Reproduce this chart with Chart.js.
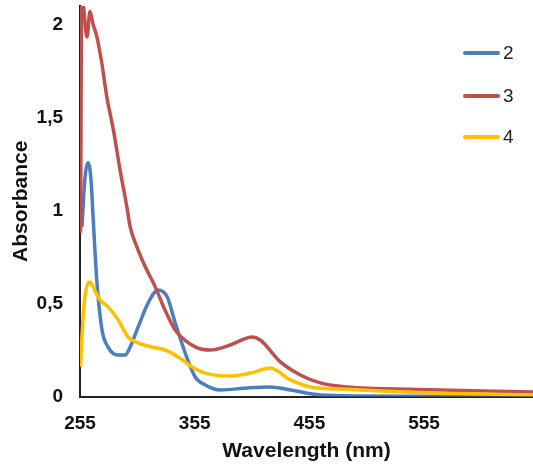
<!DOCTYPE html>
<html>
<head>
<meta charset="utf-8">
<script src="https://cdn.jsdelivr.net/npm/chart.js@4/dist/chart.umd.min.js"></script>
<style>
  html, body { margin: 0; padding: 0; background: #fff; }
  #wrap { position: relative; width: 533px; height: 465px; }
  #legend { position: absolute; left: 463px; top: 0; font-family: "Liberation Sans", Arial, sans-serif; font-size: 19px; color: #222; }
  .item { position: absolute; left: 0; height: 22px; width: 70px; }
  .item .sw { position: absolute; left: 0; top: 9px; width: 37px; height: 4px; border-radius: 2px; }
  .item .tx { position: absolute; left: 40px; top: 0; line-height: 22px; }
</style>
</head>
<body>
<div id="wrap">
  <canvas id="c" width="533" height="465"></canvas>
  <div id="legend"></div>
</div>
<script>
// ---- data ----
const seriesNames = ["2", "3", "4"];
const seriesColors = ["#4a7ebf", "#c0504d", "#ffc000"];

const wl2 = [256.7, 259.4, 262, 264.6, 266.4, 269.8, 274.2, 279.5, 288.2, 294.3, 298.7, 305.7, 314.4, 323.1, 331, 338, 346.7, 355.4, 364.2, 377.3, 400.9, 420.9, 438.4, 464.6, 499.5, 560, 650];
const abs2 = [0.912, 1.18, 1.257, 1.165, 0.966, 0.611, 0.358, 0.266, 0.223, 0.223, 0.266, 0.374, 0.503, 0.573, 0.536, 0.396, 0.234, 0.105, 0.062, 0.035, 0.046, 0.051, 0.035, 0.008, 0.003, 0.002, 0.002];

const wl3 = [255.5, 256.5, 258, 261.1, 263.7, 266.5, 269.6, 274, 278.3, 284.1, 289.9, 295.8, 298.7, 304.5, 311.8, 320.5, 329, 338, 355.4, 368.5, 386, 405.2, 412.2, 429.7, 447.1, 464.6, 488.2, 550, 650];
const abs3 = [0.88, 2.15, 2.1, 1.933, 2.07, 2.0, 1.937, 1.793, 1.614, 1.434, 1.219, 1.022, 0.914, 0.806, 0.699, 0.591, 0.466, 0.358, 0.267, 0.25, 0.277, 0.32, 0.304, 0.186, 0.116, 0.073, 0.051, 0.038, 0.024];

const wl4 = [255.5, 256.5, 259, 263.7, 266.4, 272.5, 279.5, 288.2, 296.9, 305.7, 317.9, 329.2, 340.6, 352.8, 364.2, 386, 403.5, 420.9, 438.4, 455.9, 482.1, 550, 650];
const abs4 = [0.16, 0.30, 0.52, 0.616, 0.589, 0.519, 0.482, 0.412, 0.32, 0.288, 0.266, 0.25, 0.213, 0.159, 0.126, 0.110, 0.126, 0.153, 0.089, 0.051, 0.040, 0.022, 0.008];

const xTicks = [255, 355, 455, 555];
const yTicks = [0, 0.5, 1, 1.5, 2];
const xLabel = "Wavelength (nm)";
const yLabel = "Absorbance";

function pts(xs, ys) { return xs.map((x, i) => ({ x: x, y: ys[i] })); }
const wls = [wl2, wl3, wl4];
const abss = [abs2, abs3, abs4];

const datasets = seriesNames.map((n, i) => ({
  label: n,
  data: pts(wls[i], abss[i]),
  borderColor: seriesColors[i],
  backgroundColor: seriesColors[i],
  borderWidth: 3.5,
  pointRadius: 0,
  cubicInterpolationMode: 'monotone',
  fill: false,
  order: [2, 1, 0][i]
}));

const tickFont = { family: "'Liberation Sans', Arial, sans-serif", size: 19, weight: 'bold' };
const titleFont = { family: "'Liberation Sans', Arial, sans-serif", size: 21, weight: 'bold' };

new Chart(document.getElementById('c'), {
  type: 'line',
  data: { datasets: datasets },
  options: {
    responsive: false,
    animation: false,
    layout: { padding: { left: 0, right: 0, top: 6, bottom: 0 } },
    plugins: { legend: { display: false }, tooltip: { enabled: false } },
    scales: {
      x: {
        type: 'linear',
        min: 255, max: 650,
        grid: { display: false, drawTicks: false },
        border: { display: true, color: '#222', width: 2 },
        ticks: { font: tickFont, color: '#111', padding: 16, maxRotation: 0, autoSkip: false },
        afterBuildTicks: s => { s.ticks = xTicks.map(v => ({ value: v })); },
        afterFit: s => { s.height = 68.5; s.paddingLeft = 0; s.paddingRight = 0; },
        title: { display: true, text: xLabel, font: titleFont, color: '#111', padding: { top: 0, bottom: 1 } }
      },
      y: {
        type: 'linear',
        min: 0, max: 2.1,
        grid: { display: false, drawTicks: false },
        border: { display: true, color: '#222', width: 2 },
        ticks: { font: tickFont, color: '#111', padding: 17, callback: v => String(v).replace('.', ',') },
        afterBuildTicks: s => { s.ticks = yTicks.map(v => ({ value: v })); },
        afterFit: s => { s.width = 80; s.paddingTop = 0; s.paddingBottom = 0; },
        title: { display: true, text: yLabel, font: titleFont, color: '#111', padding: { top: 9, bottom: 0 } }
      }
    }
  }
});

// legend (HTML text)
const lg = document.getElementById('legend');
const legendY = [42, 85, 126];
seriesNames.forEach((n, i) => {
  const d = document.createElement('div');
  d.className = 'item';
  d.style.top = legendY[i] + 'px';
  d.innerHTML = '<div class="sw" style="background:' + seriesColors[i] + '"></div><div class="tx">' + n + '</div>';
  lg.appendChild(d);
});
</script>
</body>
</html>
